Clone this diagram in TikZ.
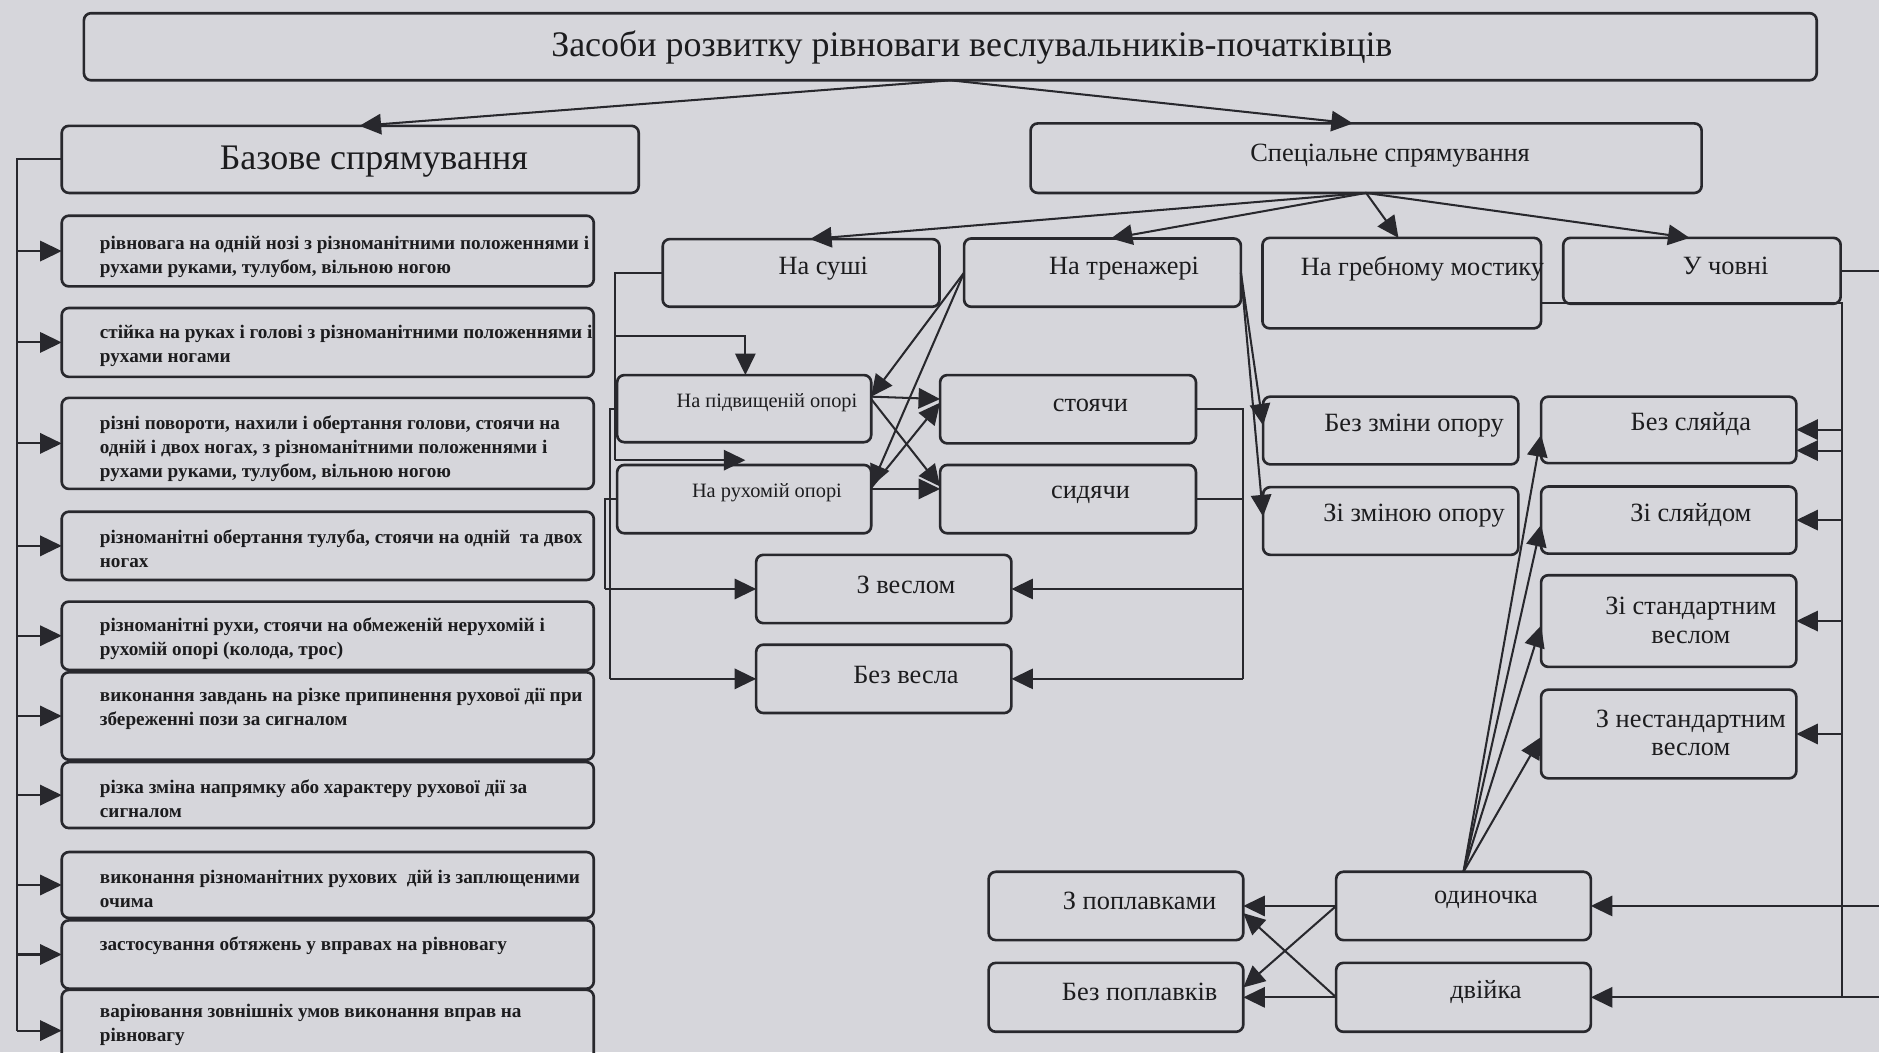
\documentclass[tikz,border=0pt]{standalone}
\usepackage{fontspec}
\setmainfont{Liberation Serif}
\usetikzlibrary{arrows.meta,calc}
\definecolor{bgc}{RGB}{214,214,219}
\definecolor{lnc}{RGB}{40,40,45}
\definecolor{txc}{RGB}{28,28,30}
\tikzset{
 box/.style={draw=lnc,line width=1.1pt,rounded corners=3pt,inner sep=0pt,outer sep=0pt},
 conn/.style={draw=lnc,line width=0.85pt},
 arr/.style={conn,-{Triangle[length=9pt,width=8.5pt]}},
 ltxt/.style={anchor=west,align=left,inner sep=0pt,text=txc,font=\bfseries\fontsize{8}{10}\selectfont},
 ctxt/.style={align=center,inner sep=0pt,text=txc,font=\fontsize{11}{12}\selectfont},
 stxt/.style={ctxt,font=\fontsize{8.5}{10}\selectfont},
 btxt/.style={ctxt,font=\fontsize{15}{18}\selectfont},
}
\newcommand\bx[6]{\node[box,#6,minimum width={(#4-#2)*0.5pt},minimum height={(#5-#3)*0.5pt}] (#1) at ({(#2+#4)/2},{(#3+#5)/2}) {};}
\begin{document}
\begin{tikzpicture}[x=0.5pt,y=-0.5pt]
\fill[bgc] (0,0) rectangle (1568,878);
\useasboundingbox (0,0) rectangle (1568,878);
% top
\bx{title}{70}{11}{1516}{67}{}
\node[btxt] (ttitle) at (811,40) {Засоби розвитку рівноваги веслувальників-початківців};
\bx{baz}{51.5}{105}{533}{161}{}
\node[btxt] (tbaz) at (312,135) {Базове спрямування};
\bx{spec}{860}{103}{1420}{161}{}
\node[ctxt] (tspec) at (1160,130) {Спеціальне спрямування};
% left column
\bx{b1}{51.5}{180}{495.5}{239}{}
\bx{b2}{51.5}{257}{495.5}{314.5}{}
\bx{b3}{51.5}{332}{495.5}{408}{}
\bx{b4}{51.5}{427}{495.5}{484}{}
\bx{b5}{51.5}{502}{495.5}{559}{}
\bx{b6}{51.5}{561}{495.5}{634}{}
\bx{b7}{51.5}{636}{495.5}{691}{}
\bx{b8}{51.5}{711}{495.5}{766}{}
\bx{b9}{51.5}{768}{495.5}{825}{}
\bx{b10}{51.5}{826}{495.5}{894}{}
\node[ltxt] (t1) at (83,214) {рівновага на одній нозі з різноманітними положеннями і\\рухами руками, тулубом, вільною ногою};
\node[ltxt] (t2) at (83,288.5) {стійка на руках і голові з різноманітними положеннями і\\рухами ногами};
\node[ltxt] (t3) at (83,374.5) {різні повороти, нахили і обертання голови, стоячи на\\одній і двох ногах, з різноманітними положеннями і\\рухами руками, тулубом, вільною ногою};
\node[ltxt] (t4) at (83,457.5) {різноманітні обертання тулуба, стоячи на одній\ \ та двох\\ногах};
\node[ltxt] (t5) at (83,533) {різноманітні рухи, стоячи на обмеженій нерухомій і\\рухомій опорі (колода, трос)};
\node[ltxt] (t6) at (83,591.5) {виконання завдань на різке припинення рухової дії при\\збереженні пози за сигналом};
\node[ltxt] (t7) at (83,666.5) {різка зміна напрямку або характеру рухової дії за\\сигналом};
\node[ltxt] (t8) at (83,741.5) {виконання різноманітних рухових\ \ дій із заплющеними\\очима};
\node[ltxt] (t9) at (83,789) {застосування обтяжень у вправах на рівновагу};
\node[ltxt] (t10) at (83,855) {варіювання зовнішніх умов виконання вправ на\\рівновагу};
% second level
\bx{sushi}{553}{199.5}{784}{256}{}
\node[ctxt] (tsushi) at (687,224) {На суші};
\bx{tren}{804.5}{199}{1035.5}{256}{}
\node[ctxt] (ttren) at (938,224) {На тренажері};
\bx{most}{1053.5}{198.5}{1286}{274}{}
\node[ctxt] (tmost) at (1187,224) {На гребному мостику};
\bx{chov}{1304.5}{198.5}{1536}{253.5}{}
\node[ctxt] (tchov) at (1440,222) {У човні};
% sushi subtree
\bx{pidv}{515}{313}{727}{369}{}
\node[stxt] (tpidv) at (640,336) {На підвищеній опорі};
\bx{ruh}{515}{388}{727}{445}{}
\node[stxt] (truh) at (640,411) {На рухомій опорі};
\bx{stoi}{784.5}{313}{998}{370}{}
\node[ctxt] (tstoi) at (910,338) {стоячи};
\bx{sid}{784.5}{388}{998}{445}{}
\node[ctxt] (tsid) at (910,413) {сидячи};
\bx{vz}{631}{463}{844}{520}{}
\node[ctxt] (tvz) at (756,488) {З веслом};
\bx{vbez}{631}{538}{844}{595}{}
\node[ctxt] (tvbez) at (756,563) {Без весла};
% bridge subtree
\bx{bzm}{1054}{331}{1267}{387.5}{}
\node[ctxt] (tbzm) at (1180,355) {Без зміни опору};
\bx{zzm}{1054}{406.5}{1267}{463}{}
\node[ctxt] (tzzm) at (1180,430) {Зі зміною опору};
% boat subtree
\bx{bsl}{1286}{331}{1499}{386.5}{}
\node[ctxt] (tbsl) at (1411,354) {Без сляйда};
\bx{zsl}{1286}{406}{1499}{462}{}
\node[ctxt] (tzsl) at (1411,430) {Зі сляйдом};
\bx{zst}{1286}{480}{1499}{556.5}{}
\node[ctxt] (tzst) at (1411,517.5) {Зі стандартним\\веслом};
\bx{zne}{1286}{575.5}{1499}{649.5}{}
\node[ctxt] (tzne) at (1411,611.5) {З нестандартним\\веслом};
\bx{zp}{825}{727.5}{1037.5}{784.5}{}
\node[ctxt] (tzp) at (951,752) {З поплавками};
\bx{bp}{825}{803.5}{1037.5}{861}{}
\node[ctxt] (tbp) at (951,828) {Без поплавків};
\bx{od}{1115}{727.5}{1327.5}{784.5}{}
\node[ctxt] (tod) at (1240,751) {одиночка};
\bx{dv}{1115}{803.5}{1327.5}{861}{}
\node[ctxt] (tdv) at (1240,828) {двійка};
% coordinates
\coordinate (lb) at (14,0);
\coordinate (sl) at (513,0);
\coordinate (sp) at (509,0);
\coordinate (sr) at (505,0);
\coordinate (rb) at (1037,0);
\coordinate (cb) at (1537,0);
\coordinate (edge) at (1570,0);
% connectors: top
\draw[arr] (title.south) -- (300,0 |- baz.north);
\draw[arr] (title.south) -- (1129,0 |- spec.north);
\draw[arr] (spec.south) -- (676,0 |- sushi.north);
\draw[arr] (spec.south) -- (927,0 |- tren.north);
\draw[arr] (spec.south) -- (1167,0 |- most.north);
\draw[arr] (spec.south) -- (1410,0 |- chov.north);
% left bus
\draw[conn] (baz.west) -- (lb |- baz.west) -- (lb |- b10.west);
\foreach \b in {b1,b2,b3,b4,b5,b6,b7,b8,b9,b10}
  \draw[arr] (lb |- \b.west) -- (\b.west);
% sushi
\draw[conn] (sushi.west) -- (sl |- sushi.west) -- (sl |- 0,384);
\draw[arr] (sl |- 0,384) -- ($(ruh.north west)+(107,-4)$);
\draw[arr] (sl |- 0,280) -- (622,280) -- (622,0 |- pidv.north);
\draw[conn] (pidv.west) -- (sp |- pidv.west) -- (sp |- vbez.west);
\draw[arr] (sp |- vbez.west) -- (vbez.west);
\draw[conn] (ruh.west) -- (sr |- ruh.west) -- (sr |- vz.west);
\draw[arr] (sr |- vz.west) -- (vz.west);
% trenazher
\draw[arr] (tren.west) -- (pidv.east |- 0,331);
\draw[arr] (tren.west) -- (ruh.east |- 0,406);
\draw[arr] (pidv.east |- 0,331) -- (stoi.west |- 0,333);
\draw[arr] (pidv.east |- 0,333) -- (sid.west |- 0,406);
\draw[arr] (ruh.east |- 0,407) -- (stoi.west |- 0,336);
\draw[arr] (ruh.east |- 0,408) -- (sid.west |- 0,408);
\draw[conn] (stoi.east) -- (rb |- stoi.east) -- (rb |- vbez.east);
\draw[arr] (rb |- vbez.east) -- (vbez.east);
\draw[conn] (sid.east) -- (rb |- sid.east);
\draw[arr] (rb |- vz.east) -- (vz.east);
\draw[arr] (tren.east) -- (bzm.west |- 0,355);
\draw[arr] (tren.east) -- (zzm.west |- 0,431);
% boat
\draw[conn] (chov.east) -- (edge |- chov.east);
\draw[conn] (most.east |- 0,253) -- (cb |- 0,253) -- (cb |- dv.east);
\draw[arr] (cb |- 0,358.5) -- (bsl.east |- 0,358.5);
\draw[arr] (cb |- 0,376) -- (bsl.east |- 0,376);
\draw[arr] (cb |- zsl.east) -- (zsl.east);
\draw[arr] (cb |- zst.east) -- (zst.east);
\draw[arr] (cb |- zne.east) -- (zne.east);
\draw[arr] (edge |- od.east) -- (od.east);
\draw[arr] (edge |- dv.east) -- (dv.east);
\draw[arr] (od.north) -- (bsl.west |- 0,363);
\draw[arr] (od.north) -- (zsl.west |- 0,438);
\draw[arr] (od.north) -- (zst.west |- 0,522);
\draw[arr] (od.north) -- (zne.west |- 0,615);
\draw[arr] (od.west) -- (zp.east);
\draw[arr] (od.west) -- (bp.east |- 0,824);
\draw[arr] (dv.west) -- (bp.east);
\draw[arr] (dv.west) -- (zp.east |- 0,762);
\end{tikzpicture}
\end{document}
